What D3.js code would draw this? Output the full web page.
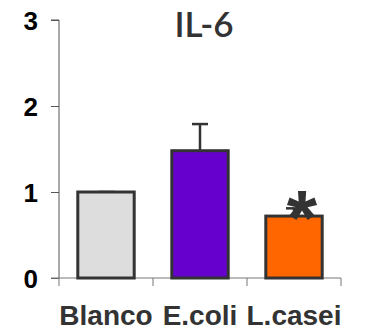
<!DOCTYPE html>
<html>
	<head>
		<meta charset="utf-8" />
		<script src="https://cdn.jsdelivr.net/npm/d3@7"></script>
		<style>
			body {
				margin: 0;
				background: #fff;
			}
			.tick-label {
				font-family: 'Liberation Sans', Arial, sans-serif;
				font-weight: bold;
			}
		</style>
	</head>
	<body>
		<svg id="chart"></svg>
		<script>
			const categories = ['Blanco', 'E.coli', 'L.casei'];
			const values = [1.0, 1.48, 0.72];
			const errors = [0.0, 0.31, 0.09];
			const colors = ['#dddddd', '#6600cc', '#ff6600'];
			const yTicks = [0, 1, 2, 3];
			const significant = [false, false, true];

			const width = 366;
			const height = 331;

			const svg = d3
				.select('#chart')
				.attr('width', width)
				.attr('height', height);

			const x = d3
				.scaleBand()
				.domain(categories)
				.range([59, 341])
				.paddingInner(0.4)
				.paddingOuter(0.2);

			// band edges for the category tick marks
			const xEdge = d3
				.scaleBand()
				.domain(categories)
				.range([59, 341]);

			const y = d3.scaleLinear().domain([0, 3]).range([278, 20]);

			// y axis
			const yAxis = svg
				.append('g')
				.attr('transform', 'translate(59,0)')
				.call(
					d3
						.axisLeft(y)
						.tickValues(yTicks)
						.tickFormat(d3.format('d'))
						.tickSize(8)
						.tickPadding(13)
				);
			yAxis.select('.domain').attr('stroke', '#555').attr('d', `M-8,${y(3)}H0V${y(0)}`);
			yAxis.selectAll('line').attr('stroke', '#555');
			yAxis
				.selectAll('text')
				.attr('class', 'tick-label')
				.attr('font-size', 26)
				.attr('fill', '#000')
				.attr('dy', '0.36em');

			// x axis line with ticks at category boundaries
			svg.append('line')
				.attr('x1', 51)
				.attr('x2', 341)
				.attr('y1', y(0))
				.attr('y2', y(0))
				.attr('stroke', '#777');
			const edges = categories.map((c) => xEdge(c)).concat([341]);
			svg.selectAll('.xtick')
				.data(edges)
				.enter()
				.append('line')
				.attr('x1', (d) => d)
				.attr('x2', (d) => d)
				.attr('y1', y(0))
				.attr('y2', y(0) + 8)
				.attr('stroke', '#777');

			svg.selectAll('.xlabel')
				.data(categories)
				.enter()
				.append('text')
				.attr('class', 'tick-label')
				.attr('x', (d) => x(d) + x.bandwidth() / 2)
				.attr('y', 325)
				.attr('text-anchor', 'middle')
				.attr('font-size', 28)
				.attr('fill', '#333')
				.text((d) => d);

			const data = categories.map((c, i) => ({
				name: c,
				value: values[i],
				err: errors[i],
				color: colors[i],
				sig: significant[i],
			}));

			// error bars (drawn behind bars)
			const err = svg.selectAll('.err').data(data).enter().append('g');
			err.append('line')
				.attr('x1', (d) => x(d.name) + x.bandwidth() / 2)
				.attr('x2', (d) => x(d.name) + x.bandwidth() / 2)
				.attr('y1', (d) => y(d.value))
				.attr('y2', (d) => y(d.value + d.err))
				.attr('stroke', '#333')
				.attr('stroke-width', 2.5);
			err.append('line')
				.attr('x1', (d) => x(d.name) + x.bandwidth() / 2 - 8)
				.attr('x2', (d) => x(d.name) + x.bandwidth() / 2 + 8)
				.attr('y1', (d) => y(d.value + d.err))
				.attr('y2', (d) => y(d.value + d.err))
				.attr('stroke', '#333')
				.attr('stroke-width', 2.5);

			svg.selectAll('.bar')
				.data(data)
				.enter()
				.append('rect')
				.attr('x', (d) => x(d.name))
				.attr('y', (d) => y(d.value))
				.attr('width', x.bandwidth())
				.attr('height', (d) => y(0) - y(d.value))
				.attr('fill', (d) => d.color)
				.attr('stroke', '#333')
				.attr('stroke-width', 3);

			svg.selectAll('.star')
				.data(data.filter((d) => d.sig))
				.enter()
				.append('text')
				.attr('x', (d) => x(d.name) + x.bandwidth() / 2 + 8)
				.attr('y', (d) => y(d.value + d.err) + 37)
				.attr('text-anchor', 'middle')
				.attr('font-family', "'Liberation Sans', Arial, sans-serif")
				.attr('font-weight', 'bold')
				.attr('font-size', 78)
				.attr('fill', '#333')
				.text('*');

			svg.append('text')
				.attr('x', 204)
				.attr('y', 37)
				.attr('text-anchor', 'middle')
				.attr('font-family', 'Lato, sans-serif')
				.attr('font-weight', 600)
				.attr('font-size', 35)
				.attr('fill', '#333')
				.text('IL-6');
		</script>
	</body>
</html>
